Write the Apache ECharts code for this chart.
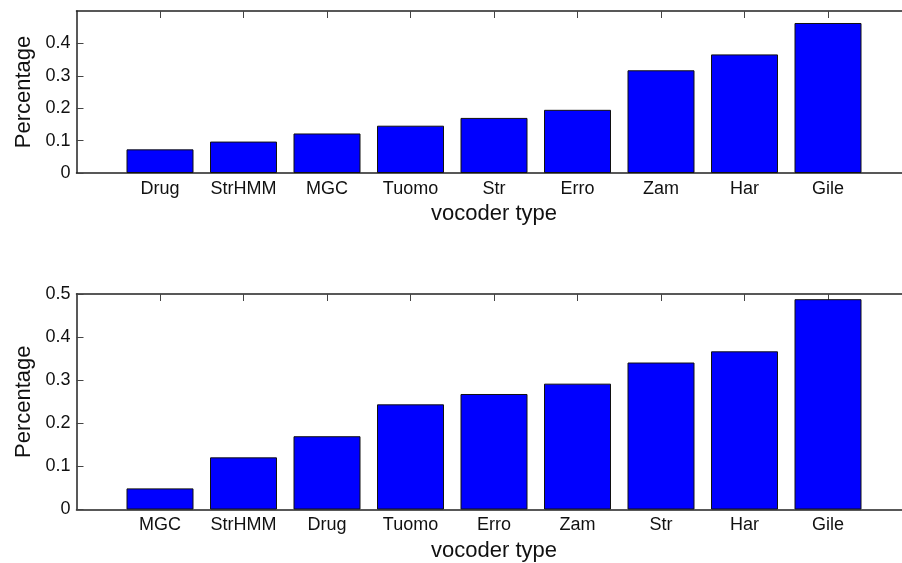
<!DOCTYPE html>
<html>
<head>
<meta charset="utf-8">
<script src="https://cdn.jsdelivr.net/npm/echarts@6/dist/echarts.min.js"></script>
<style>
  html, body { margin: 0; padding: 0; background: #fff; overflow: hidden; }
  /* the plot box runs past the right edge of the picture, so the canvas is a bit wider */
  #chart { width: 920px; height: 563px; }
</style>
</head>
<body>
<div id="chart"></div>
<script>
// top panel
var topNames = ['Drug', 'StrHMM', 'MGC', 'Tuomo', 'Str', 'Erro', 'Zam', 'Har', 'Gile'];
var topValues = [0.073, 0.097, 0.122, 0.146, 0.170, 0.195, 0.317, 0.366, 0.463];
// bottom panel
var bottomNames = ['MGC', 'StrHMM', 'Drug', 'Tuomo', 'Erro', 'Zam', 'Str', 'Har', 'Gile'];
var bottomValues = [0.049, 0.121, 0.170, 0.244, 0.268, 0.292, 0.341, 0.367, 0.488];
var yTicks = [0, 0.1, 0.2, 0.3, 0.4, 0.5];

var font = "'Liberation Sans', Arial, Helvetica, sans-serif";
var lineCol = '#222';

// pad with an empty slot on each side, like the matlab x range 0..10
function padCats(arr) { return [''].concat(arr, ['']); }
function padVals(arr) { return [null].concat(arr, [null]); }

function xAxes(idx, names) {
    return [
        {
            type: 'category', gridIndex: idx, position: 'bottom',
            data: padCats(names), boundaryGap: false,
            axisLine: {lineStyle: {color: lineCol, width: 1.5}},
            axisTick: {show: false},
            axisLabel: {color: '#111', fontFamily: font, fontSize: 18, margin: 7, interval: 0},
            name: 'vocoder type', nameLocation: 'middle', nameGap: 30,
            nameTextStyle: {color: '#111', fontFamily: font, fontSize: 22}
        },
        {
            type: 'category', gridIndex: idx, position: 'top',
            data: padCats(names), boundaryGap: false,
            axisLine: {lineStyle: {color: lineCol, width: 1.5}},
            axisTick: {
                show: true, inside: true, length: 7, lineStyle: {color: '#444'},
                interval: function (i, v) { return v !== ''; }
            },
            axisLabel: {show: false}
        }
    ];
}

function yAxis(idx) {
    return {
        type: 'value', gridIndex: idx, min: yTicks[0], max: yTicks[yTicks.length - 1],
        interval: 0.1,
        splitLine: {show: false},
        axisLine: {show: true, lineStyle: {color: lineCol, width: 1.5}},
        axisTick: {show: true, inside: true, length: 7, lineStyle: {color: '#444', width: 1}},
        axisLabel: {
            color: '#111', fontFamily: font, fontSize: 18, margin: 6,
            showMaxLabel: idx === 1,
            formatter: function (v) { return v === 0 ? '0' : v.toFixed(1); }
        },
        name: 'Percentage', nameLocation: 'middle', nameGap: 42,
        nameTextStyle: {color: '#111', fontFamily: font, fontSize: 22}
    };
}

function barSeries(idx, values) {
    return {
        type: 'bar', xAxisIndex: idx * 2, yAxisIndex: idx,
        data: padVals(values), barWidth: 67,
        itemStyle: {color: '#0000ff', borderColor: '#111', borderWidth: 1},
        silent: true
    };
}

var myChart = echarts.init(document.getElementById('chart'), null, {renderer: 'canvas'});
var option = {
    animation: false,
    backgroundColor: '#fff',
    grid: [
        {left: 76.5, top: 11, width: 835, height: 162},
        {left: 76.5, top: 294, width: 835, height: 215.5}
    ],
    xAxis: xAxes(0, topNames).concat(xAxes(1, bottomNames)),
    yAxis: [yAxis(0), yAxis(1)],
    series: [barSeries(0, topValues), barSeries(1, bottomValues)]
};
myChart.setOption(option);
</script>
</body>
</html>
